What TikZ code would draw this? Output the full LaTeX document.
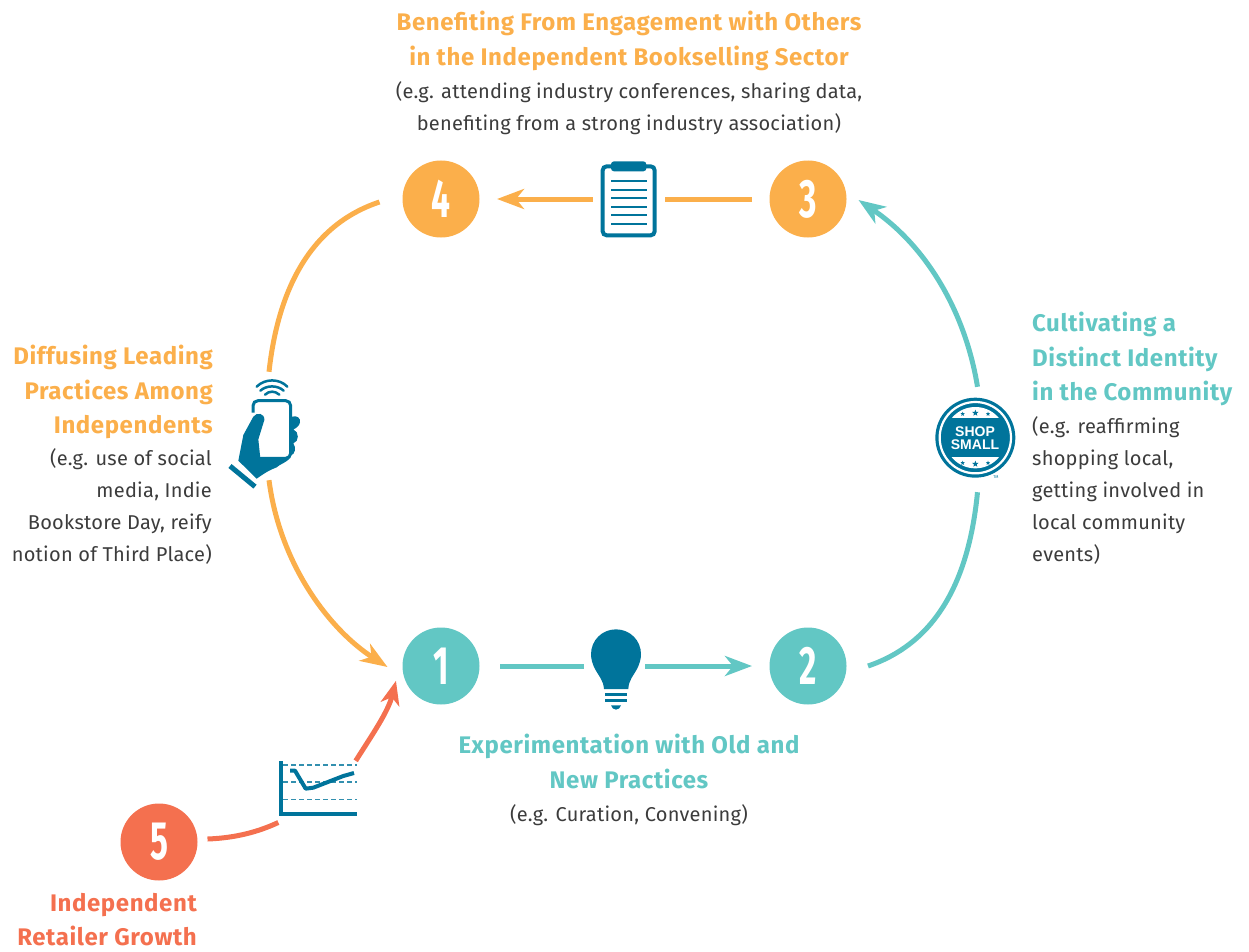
\documentclass[tikz,border=0pt]{standalone}
\usepackage{fontspec}
\setmainfont{Fira Sans}
\newfontfamily\bodyfam[LetterSpace=1.3]{Fira Sans}
\newfontfamily\headfam[LetterSpace=2.5]{Fira Sans}
\newfontfamily\badgefam{Liberation Sans}
\usetikzlibrary{arrows.meta,calc}
\definecolor{teal}{HTML}{62C7C4}
\definecolor{orng}{HTML}{FBAF4B}
\definecolor{redd}{HTML}{F4704F}
\definecolor{blu}{HTML}{00749B}
\definecolor{txt}{HTML}{3C3C3C}
\tikzset{
 numc/.style={circle,minimum size=77pt,inner sep=0pt,outer sep=9pt,text=white,font=\fontsize{54}{54}\selectfont\bfseries},
 conn/.style={line width=5pt},
 tipped/.style={conn,-{Stealth[length=27pt,width=20pt,inset=8pt]}},
 tippedr/.style={conn,-{Stealth[length=24pt,width=19pt,inset=7pt]}},
 head/.style={inner sep=0pt,align=center,font=\headfam\fontsize{24}{34.5}\selectfont\bfseries},
 bod/.style={inner sep=0pt,align=center,text=txt,font=\bodyfam\fontsize{20}{32}\selectfont},
 zoomed/.style={x=0.33333pt,y=-0.33333pt},
}
\newcommand{\num}[1]{\scalebox{.62}[1]{#1}}
\newcommand{\starat}[3]{\fill[blu,shift={(#1,#2)}] (-90:#3) -- (-126:.42*#3) -- (-162:#3) -- (-198:.42*#3) -- (-234:#3) -- (-270:.42*#3) -- (-306:#3) -- (-342:.42*#3) -- (-378:#3) -- (-414:.42*#3) -- cycle;}
\begin{document}
\begin{tikzpicture}[x=1pt,y=-1pt]
\useasboundingbox (0,0) rectangle (1249,952);
% number circles
\node[numc,fill=teal] (n1) at (441,666) {\num{1}};
\node[numc,fill=teal] (n2) at (808,666) {\num{2}};
\node[numc,fill=orng] (n3) at (808,199) {\num{3}};
\node[numc,fill=orng] (n4) at (441,199) {\num{4}};
\node[numc,fill=redd] (n5) at (159,842) {\num{5}};
% icon anchors
\node[inner sep=0pt,minimum width=72pt,minimum height=76pt] (clip) at (629,199) {};
\node[inner sep=0pt,minimum width=4pt,minimum height=108pt] (phone) at (269,426) {};
\node[inner sep=0pt,minimum width=4pt,minimum height=105pt] (shop) at (977.5,439.5) {};
\node[inner sep=0pt,minimum width=61pt,minimum height=80pt] (bulb) at (614.5,666) {};
\node[inner sep=0pt,minimum width=77pt,minimum height=66pt] (chart) at (317,790) {};
% connectors
\draw[tipped,orng] (clip.west) -- ([xshift=8.5pt]n4.east);
\draw[conn,orng] ([xshift=-8.5pt]n3.west) -- (clip.east);
\draw[conn,teal] ([xshift=11.5pt]n1.east) -- (bulb.west);
\draw[tipped,teal] (bulb.east) -- ([xshift=-8.5pt]n2.west);
\draw[conn,orng] ([xshift=-14pt,yshift=-3pt]n4.west) .. controls (310,225) and (278,290) .. (phone.north);
\draw[tipped,orng] (phone.south) .. controls (280,565) and (330,630) .. ([xshift=-6pt,yshift=-1pt]n1.west);
\draw[conn,teal] ([xshift=12.5pt]n2.east) .. controls (930,645) and (968,590) .. (shop.south);
\draw[tipped,teal] (shop.north) .. controls (965,310) and (925,245) .. ([xshift=3pt,yshift=-1pt]n3.east);
\draw[conn,redd] ([xshift=1pt,yshift=3pt]n5.east) .. controls (235,838) and (258,832) .. (chart.220);
\draw[tippedr,redd] (chart.37) .. controls (372,735) and (388,712) .. ([xshift=-1pt,yshift=3pt]n1.202);
% clipboard
\begin{scope}[zoomed,shift={(480pt,-150pt)}]
 \draw[blu,line width=4pt,fill=white,rounded corners=4pt] (368,49) rectangle (524,256);
 \fill[blu,rounded corners=3pt] (393,34) rectangle (499,64);
 \foreach \yy in {92,119,145,170,194,221} \draw[blu,line width=2pt] (393,\yy) -- (501,\yy);
\end{scope}
% bulb
\begin{scope}[zoomed,shift={(480pt,-615pt)}]
 \fill[blu] (372,222) .. controls (370,195) and (356,183) .. (344,160)
   .. controls (338,148) and (333,133) .. (333,118)
   .. controls (333,76) and (366,43) .. (408,43)
   .. controls (450,43) and (483,76) .. (483,118)
   .. controls (483,133) and (478,148) .. (472,160)
   .. controls (460,183) and (446,195) .. (445,222) -- cycle;
 \fill[blu] (375,233) rectangle (441,242);
 \fill[blu] (375,252) rectangle (441,261);
 \fill[blu] (393,271) -- (423,271) .. controls (419,288) and (397,288) .. (393,271) -- cycle;
\end{scope}
% phone
\begin{scope}[zoomed,shift={(210pt,-360pt)}]
 \draw[blu,line width=2.5pt,line cap=round] (140,80) .. controls (165,55) and (208,55) .. (232,80);
 \draw[blu,line width=2.5pt,line cap=round] (151,92) .. controls (170,75) and (202,75) .. (221,92);
 \draw[blu,line width=2.5pt,line cap=round] (165,104) .. controls (178,92) and (194,92) .. (208,104);
 \fill[blu] (246,170) .. controls (262,165) and (272,175) .. (270,187) .. controls (268,198) and (258,205) .. (250,208)
   .. controls (268,215) and (268,245) .. (250,250) .. controls (258,262) and (258,282) .. (240,288) -- cycle;
 \draw[blu,line width=3pt,rounded corners=5pt,fill=white] (129,158) -- (129,122) -- (242,122) -- (242,295) -- (150,295);
 \fill[blu] (130,170) .. controls (140,155) and (165,160) .. (163,180)
   -- (145,238) -- (151,295) -- (240,295) .. controls (225,310) and (210,312) .. (200,322)
   .. controls (180,330) and (170,335) .. (140,356) -- (85,302) -- (100,225) -- cycle;
 \draw[blu,line width=5pt] (60,318) -- (135,380);
\end{scope}
% shop small
\begin{scope}[zoomed,shift={(920pt,-385pt)}]
 \fill[blu] (166,158) circle[radius=120];
 \draw[white,line width=2.2pt] (166,158) circle[radius=107];
 \begin{scope}
  \clip (166,158) circle[radius=92];
  \fill[white] (60,60) rectangle (270,100);
  \fill[white] (60,216) rectangle (270,260);
 \end{scope}
 \starat{128}{87}{7}\starat{166}{84}{10}\starat{204}{87}{7}
 \starat{128}{234}{7}\starat{166}{237}{10}\starat{204}{234}{7}
\end{scope}
\node[inner sep=0pt,text=white,align=center,font=\badgefam\fontsize{14}{13.5}\selectfont\bfseries] (shoptxt) at (975,438.3) {SHOP\\SMALL};
\node[inner sep=0pt,text=blu,font=\fontsize{4}{4}\selectfont] (tm) at (996,477.5) {TM};
% chart
\begin{scope}[zoomed,shift={(200pt,-680pt)}]
 \foreach \yy in {255,306,358} \draw[blu!80,line width=1.3pt,dash pattern=on 5pt off 3pt] (250,\yy) -- (470,\yy);
 \draw[blu,line width=4pt] (242,243) -- (242,403) -- (472,403);
 \draw[blu,line width=4pt,line join=round] (270,272) -- (285,272) -- (317,326) -- (340,323) -- (430,288) -- (462,279);
\end{scope}
% text
\node[head,text=orng,anchor=north] (t4h) at (629,11) {Benefiting From Engagement with Others\\in the Independent Bookselling Sector};
\node[bod,anchor=north] (t4b) at (629,81) {(e.g. attending industry conferences, sharing data,\\benefiting from a strong industry association)};
\node[head,text=orng,anchor=north east,align=right] (t3h) at (213,345) {Diffusing Leading\\Practices Among\\Independents};
\node[bod,anchor=north east,align=right] (t3b) at (212,448) {(e.g. use of social\\media, Indie\\Bookstore Day, reify\\notion of Third Place)};
\node[head,text=teal,anchor=north west,align=left] (t2h) at (1032,312) {Cultivating a\\Distinct Identity\\in the Community};
\node[bod,anchor=north west,align=left] (t2b) at (1032,416) {(e.g. reaffirming\\shopping local,\\getting involved in\\local community\\events)};
\node[head,text=teal,anchor=north] (t1h) at (629,734) {Experimentation with Old and\\New Practices};
\node[bod,anchor=north] (t1b) at (629,804) {(e.g. Curation, Convening)};
\node[head,text=redd,anchor=north east,align=right] (t5h) at (197,893) {Independent\\Retailer Growth};
\end{tikzpicture}
\end{document}
